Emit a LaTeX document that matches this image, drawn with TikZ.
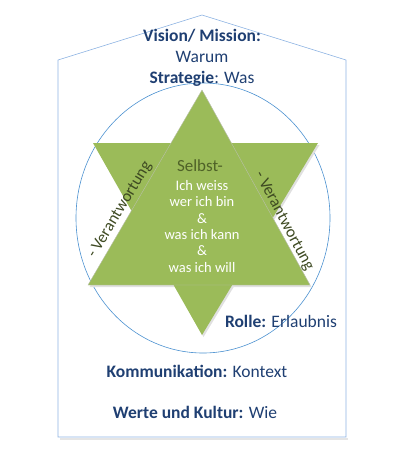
\documentclass[tikz,border=0pt]{standalone}
\usepackage{fontspec}
\setmainfont{Carlito}
\definecolor{navy}{HTML}{1F3F72}
\definecolor{leaf}{HTML}{9BBB59}
\definecolor{olive}{HTML}{4F6228}
\definecolor{moss}{HTML}{3E4A22}
\definecolor{rim}{HTML}{8DB3E2}
\definecolor{ring}{HTML}{4A90D0}

\begin{document}
\begin{tikzpicture}[x=1pt,y=-1pt,
  caption/.style={text=navy,font=\fontsize{17.5}{20}\selectfont,anchor=base,inner sep=0pt},
  tilted/.style={text=moss,font=\fontsize{16.5}{19}\selectfont,inner sep=0pt},
  core/.style={text=white,font=\fontsize{14.5}{16.4}\selectfont,align=center,inner sep=0pt}]
  \useasboundingbox (0,0) rectangle (400,456);

  % house and circle
  \draw[black!10,line width=2pt] (60,439) -- (348,439);
  \draw[rim,line width=0.6pt] (58,437) -- (58,60) -- (202,15) -- (346,60) -- (346,437) -- cycle;
  \draw[ring,line width=0.6pt] (203,218) ellipse [x radius=127,y radius=135];

  % star
  \coordinate (up) at (202,90);
  \coordinate (upl) at (88,285);
  \coordinate (upr) at (310,285);
  \coordinate (dnl) at (93,143);
  \coordinate (dnr) at (318,143);
  \coordinate (dn) at (202,335);
  \fill[black!12] ([shift={(1.5,2)}]dnl) -- ([shift={(1.5,2)}]dnr) -- ([shift={(1.5,2)}]dn) -- cycle;
  \fill[black!12] ([shift={(1.5,2)}]up) -- ([shift={(1.5,2)}]upr) -- ([shift={(1.5,2)}]upl) -- cycle;
  \fill[leaf] (dnl) -- (dnr) -- (dn) -- cycle;
  \filldraw[fill=leaf,draw=olive!40,line width=0.4pt] (up) -- (upr) -- (upl) -- cycle;

  % texts
  \node[caption,font=\fontsize{17.5}{20}\bfseries] (vision) at (202,41) {Vision/ Mission:};
  \node[caption] (warum) at (202,62) {Warum};
  \node[caption] (strategie) at (202,83) {\textbf{Strategie}: Was};
  \node[caption] (rolle) at (281,327) {\textbf{Rolle:} Erlaubnis};
  \node[caption] (komm) at (197,377) {\textbf{Kommunikation:} Kontext};
  \node[caption] (werte) at (195,418) {\textbf{Werte und Kultur:} Wie};

  \node[text=olive,font=\fontsize{17}{20}\selectfont,anchor=base,inner sep=0pt] (selbst) at (200,171) {Selbst-};
  \node[core,anchor=north] (ich) at (202,180) {Ich weiss\\wer ich bin\\\&\\was ich kann\\\&\\was ich will};

  \node[tilted,rotate=59] (vleft) at (120,210) {- Verantwortung};
  \node[tilted,rotate=-62] (vright) at (284,221) {- Verantwortung};
\end{tikzpicture}
\end{document}
